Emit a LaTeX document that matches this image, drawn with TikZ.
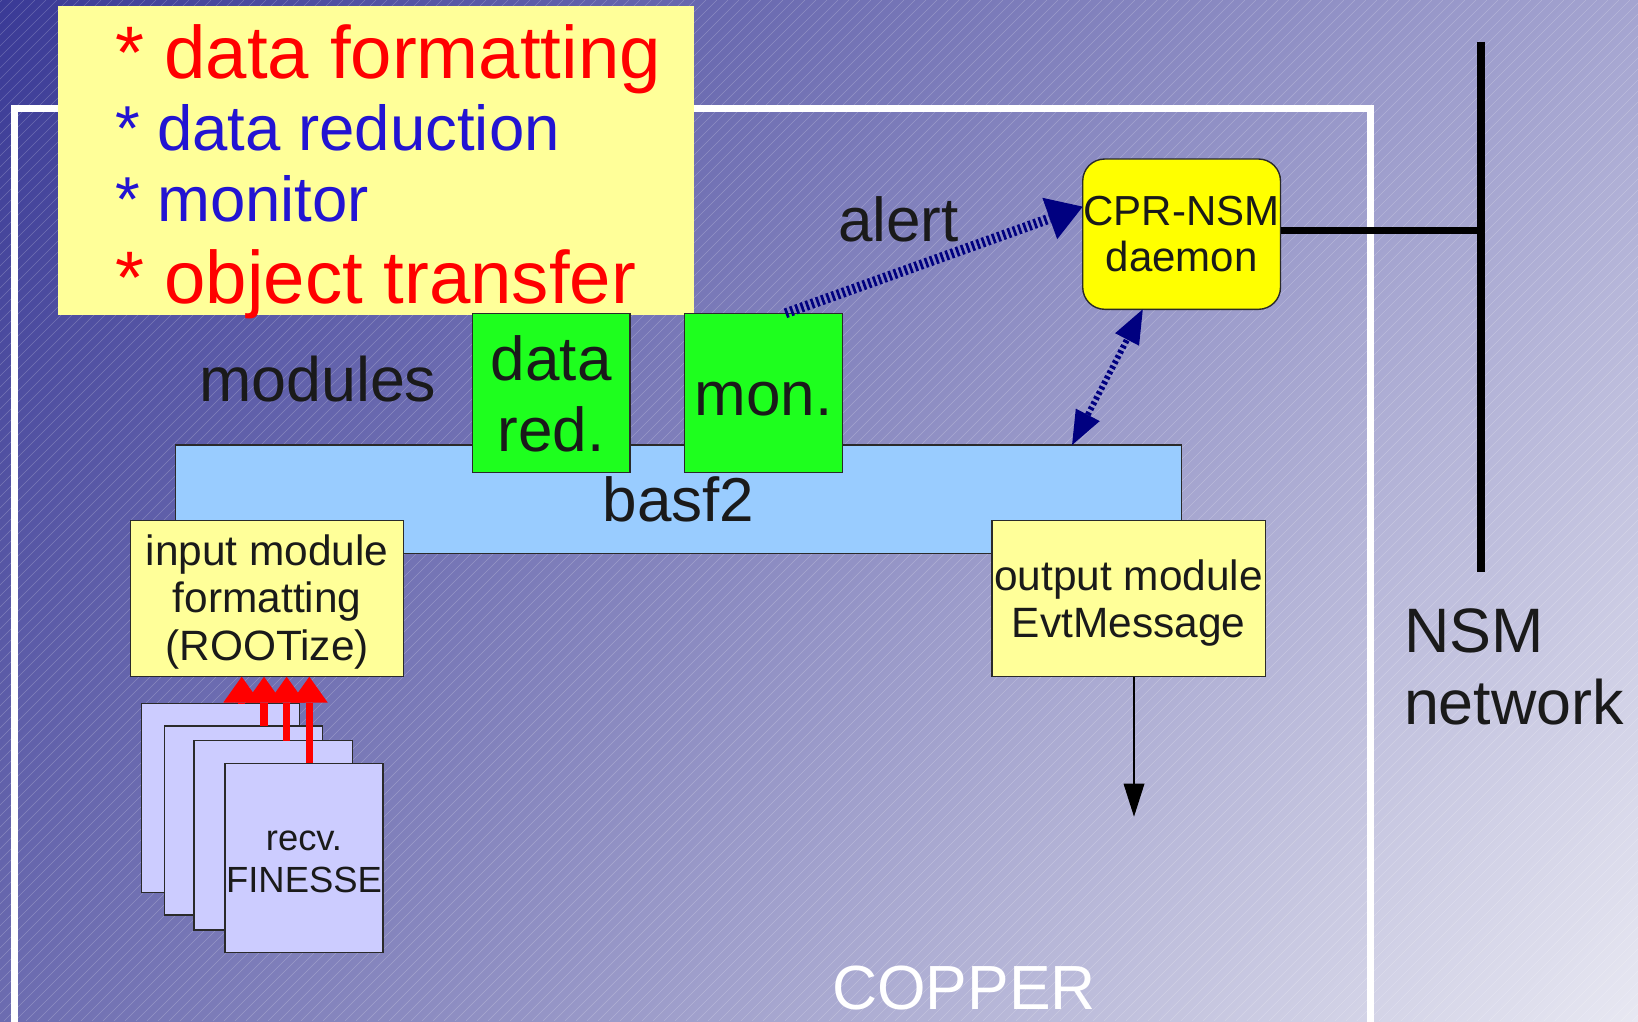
\documentclass[tikz,border=0pt]{standalone}
\usepackage{fontspec}
\setmainfont{Liberation Sans}
\usetikzlibrary{arrows.meta,calc,shadings}

\definecolor{bgTL}{HTML}{3A3A96}
\definecolor{bgTR}{HTML}{A4A4D0}
\definecolor{bgBL}{HTML}{6C6CB0}
\definecolor{bgBR}{HTML}{E8E8F2}
\definecolor{paleyellow}{HTML}{FFFF99}
\definecolor{brightyellow}{HTML}{FFFF00}
\definecolor{modgreen}{HTML}{1EFF1E}
\definecolor{barblue}{HTML}{99CCFF}
\definecolor{lavender}{HTML}{CCCCFF}
\definecolor{ink}{HTML}{1A1A1A}
\definecolor{navyarrow}{HTML}{000080}
\definecolor{itemblue}{HTML}{2314D2}
\definecolor{edgegray}{HTML}{2A2A2A}

\newcommand\setfs[2]{\fontsize{#1pt}{#2pt}\selectfont}
% invisible strut that lowers the first line of a centred block
\newcommand\toplift[1]{\rule{0pt}{#1pt}}

\begin{document}
\begin{tikzpicture}[x=1pt,y=-1pt,
  box/.style={draw=edgegray,line width=1.4pt,inner sep=0pt,outer sep=0pt,
    anchor=north west,text=ink,align=center},
  label text/.style={inner sep=0pt,outer sep=0pt,text=ink},
  alertline/.style={draw=navyarrow,line width=10pt,dash pattern=on 2.7pt off 2.8pt,
    -{Triangle[length=35pt,width=44pt,line width=0pt]}},
  linkline/.style={draw=navyarrow,line width=6pt,dash pattern=on 3pt off 2.8pt,
    {Triangle[length=34pt,width=27pt,line width=0pt]}-{Triangle[length=34pt,width=27pt,line width=0pt]}},
  feedarrow/.style={draw=red,line width=7.5pt,
    -{Triangle[length=26pt,width=37pt,line width=0pt]}},
  outarrow/.style={draw=black,line width=1.2pt,
    -{Triangle[length=33pt,width=21pt,line width=0pt]}},
  busline/.style={draw=black,line width=7.6pt},
]
\useasboundingbox (0,0) rectangle (1638,1021);

% backdrop: diagonal gradient with fine white hatching
\shade[upper left=bgTL,upper right=bgTR,lower left=bgBL,lower right=bgBR]
  (0,0) rectangle (1638,1021);
\begin{scope}
  \clip (0,0) rectangle (1638,1021);
  \foreach \k in {-1030,-1019,...,1650}
    \draw[white,opacity=0.22,line width=0.6pt] (\k,1021) -- ++(1021,-1021);
  % COPPER board outline
  \draw[white,line width=7pt] (14,1060) -- (14,108) -- (1370,108) -- (1370,1060);
\end{scope}

% task list
\node[anchor=north west,fill=paleyellow,inner sep=0pt,outer sep=0pt,
  minimum width=636.4pt,minimum height=309pt] (tasks) at (57.6,6) {};
\node[label text,anchor=base west,text=red,font=\setfs{74.4}{80}] (task1)
  at (115,78.3) {* data formatting};
\node[label text,anchor=base west,text=itemblue,font=\setfs{63.5}{70}] (task2)
  at (115,150.7) {* data reduction};
\node[label text,anchor=base west,text=itemblue,font=\setfs{63.5}{70}] (task3)
  at (115,221.7) {* monitor};
\node[label text,anchor=base west,text=red,font=\setfs{74.4}{80}] (task4)
  at (115,303.3) {* object transfer};

% basf2 framework and its modules
\node[box,fill=barblue,minimum width=1005.7pt,minimum height=108.3pt,
  font=\setfs{62}{70}] (bar) at (175.7,445) {basf2};
\node[box,fill=modgreen,minimum width=157.6pt,minimum height=159.4pt,
  font=\setfs{62}{71.4}] (datared) at (472.4,313.3) {\toplift{47}data\\red.};
\node[box,fill=modgreen,minimum width=157.5pt,minimum height=159.4pt,
  text height=44pt,text depth=0pt,font=\setfs{62}{71.4}] (mon)
  at (684.7,313.3) {mon.};
\node[box,fill=paleyellow,minimum width=272.9pt,minimum height=156pt,
  font=\setfs{42.4}{47.5}] (inbox)
  at (130.7,520.7) {\toplift{37}input module\\formatting\\(ROOTize)};
\node[box,fill=paleyellow,minimum width=273.6pt,minimum height=156pt,
  font=\setfs{42.4}{46.7}] (outbox)
  at (991.8,520.7) {\toplift{39}output module\\EvtMessage};

\node[label text,anchor=base west,font=\setfs{62.8}{70}] (modules)
  at (199,401.7) {modules};

% receiver cards
\node[box,fill=lavender,minimum width=158pt,minimum height=189pt] (r1) at (141.3,703.3) {};
\node[box,fill=lavender,minimum width=158pt,minimum height=189pt] (r2) at (164.3,726) {};
\node[box,fill=lavender,minimum width=158.3pt,minimum height=189.3pt] (r3) at (194,740.7) {};
\node[box,fill=lavender,minimum width=158pt,minimum height=189.4pt,
  font=\setfs{36.4}{41.7}] (r4) at (225,763.3) {\toplift{27}recv.\\FINESSE};

\draw[feedarrow] ([xshift=21.4pt]r1.north) -- ([xshift=21.4pt]r1.north |- inbox.south);
\draw[feedarrow] ([xshift=20.7pt]r2.north) -- ([xshift=20.7pt]r2.north |- inbox.south);
\draw[feedarrow] ([xshift=13.5pt]r3.north) -- ([xshift=13.5pt]r3.north |- inbox.south);
\draw[feedarrow] ([xshift=5.3pt]r4.north) -- ([xshift=5.3pt]r4.north |- inbox.south);

% event output
\coordinate (outend) at (1134,816.7);
\draw[outarrow] ([xshift=5.4pt]outbox.south) -- (outend);

% NSM side
\node[box,fill=brightyellow,rounded corners=22pt,minimum width=197.8pt,
  minimum height=150.3pt,font=\setfs{42}{46.7}] (daemon) at (1082.7,159)
  {CPR-NSM\\daemon};

\coordinate (bustop) at (1481,41.7);
\coordinate (busbot) at (1481,571.7);
\draw[busline] (bustop) -- (busbot);
\draw[busline] ([yshift=3.7pt]daemon.east) -- ([yshift=3.7pt]daemon.east -| bustop);

\draw[alertline] ([xshift=22pt]mon.north) -- ([yshift=27.5pt]daemon.west);
\node[label text,anchor=base west,font=\setfs{62}{70}] (alert)
  at (838,241.7) {alert};

\draw[linkline] ([xshift=393.5pt]bar.north) -- ([xshift=-38.8pt]daemon.south);

\node[label text,anchor=north west,align=left,font=\setfs{62.8}{71.7}] (nsm)
  at (1404,609) {NSM\\network};

\node[label text,anchor=base,text=white,font=\setfs{62.4}{70}] (copper)
  at (964,1009.3) {COPPER};
\end{tikzpicture}
\end{document}
